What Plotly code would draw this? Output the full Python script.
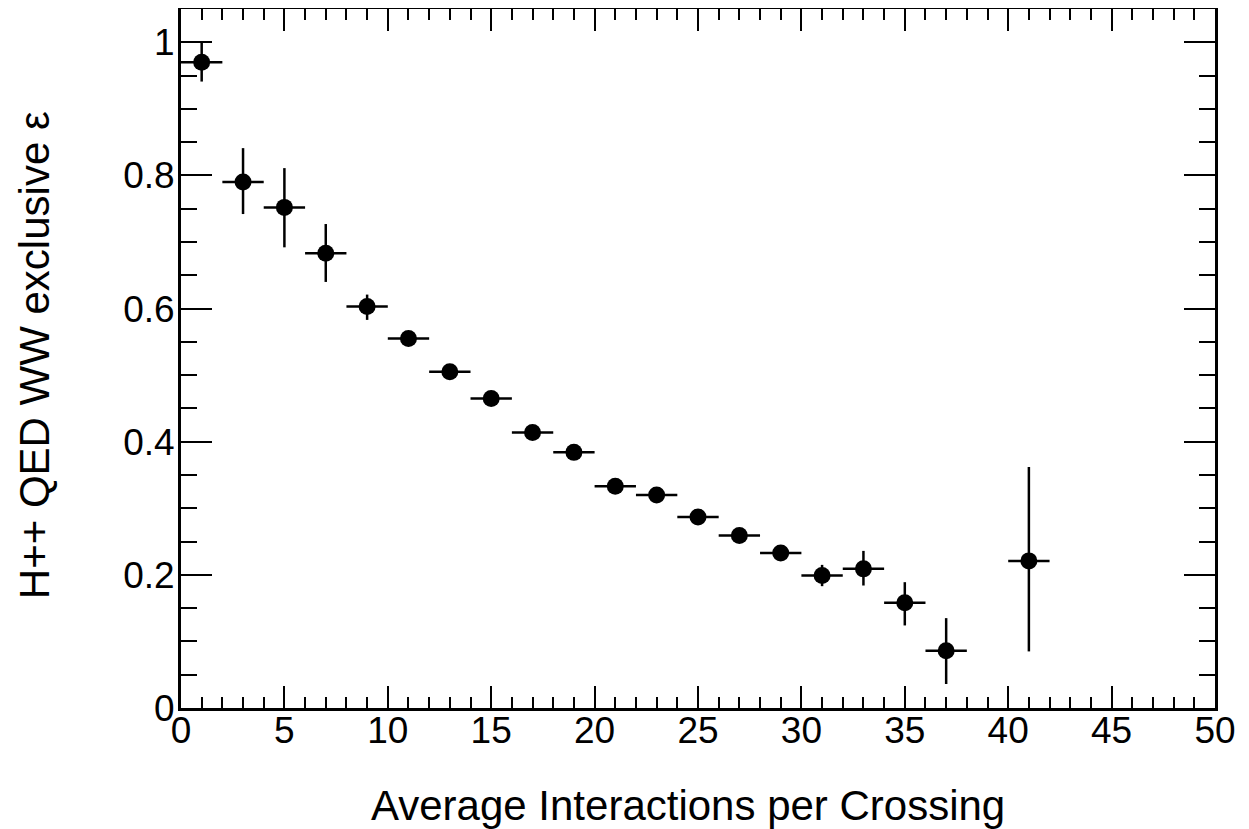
import plotly.graph_objects as go

# Data
mu = [1, 3, 5, 7, 9, 11, 13, 15, 17, 19, 21, 23, 25, 27, 29, 31, 33, 35, 37, 41]
eff = [0.970, 0.790, 0.752, 0.683, 0.603, 0.555, 0.505, 0.465, 0.414, 0.384,
       0.333, 0.320, 0.287, 0.259, 0.233, 0.199, 0.209, 0.158, 0.086, 0.221]
err_up = [0.030, 0.051, 0.059, 0.044, 0.018, 0.008, 0.008, 0.008, 0.008, 0.008,
          0.007, 0.007, 0.007, 0.007, 0.008, 0.016, 0.027, 0.031, 0.049, 0.141]
err_dn = [0.029, 0.048, 0.060, 0.043, 0.020, 0.008, 0.008, 0.008, 0.008, 0.008,
          0.007, 0.007, 0.007, 0.007, 0.008, 0.016, 0.025, 0.034, 0.050, 0.136]
bin_half = [1] * len(mu)

x_title = "Average Interactions per Crossing"
y_title = "H++ QED WW exclusive \u03b5"

FONT = "Liberation Sans, Arial, Helvetica, sans-serif"

fig = go.Figure()
fig.add_trace(go.Scatter(
    x=mu, y=eff, mode="markers",
    marker=dict(symbol="circle", size=17, color="black"),
    error_x=dict(type="data", array=bin_half, symmetric=True, color="black",
                 thickness=2.5, width=0),
    error_y=dict(type="data", array=err_up, arrayminus=err_dn, symmetric=False,
                 color="black", thickness=2.5, width=0),
    showlegend=False,
))

axis_common = dict(
    showline=True, linecolor="black", linewidth=3, mirror="allticks",
    ticks="inside", tickcolor="black", tickwidth=2,
    showgrid=False, zeroline=False,
    tickfont=dict(family=FONT, size=37, color="black"),
)

fig.update_xaxes(
    range=[0, 50], tick0=0, dtick=5, ticklen=22,
    minor=dict(ticks="inside", dtick=1, ticklen=11, tickwidth=2, tickcolor="black", showgrid=False),
    ticklabelstandoff=-12,
    **axis_common,
)
fig.update_yaxes(
    range=[0, 1.05], tick0=0, dtick=0.2, ticklen=31,
    minor=dict(ticks="inside", dtick=0.05, ticklen=16, tickwidth=2, tickcolor="black", showgrid=False),
    ticklabelstandoff=-4,
    **axis_common,
)

fig.add_annotation(text=x_title, xref="paper", yref="paper", x=0.49, y=-0.139,
                   xanchor="center", yanchor="middle", showarrow=False,
                   font=dict(family=FONT, size=42, color="black"))
fig.add_annotation(text=y_title, xref="paper", yref="paper", x=-0.142, y=0.505,
                   xanchor="center", yanchor="middle", showarrow=False, textangle=-90,
                   font=dict(family=FONT, size=42, color="black"))

# The page adds an 8px body margin, so the figure is sized to fit the window.
fig.update_layout(
    width=1241, height=821,
    margin=dict(l=173, r=34, t=1, b=121, autoexpand=False),
    paper_bgcolor="white", plot_bgcolor="white",
)

fig.write_html("out.html")
